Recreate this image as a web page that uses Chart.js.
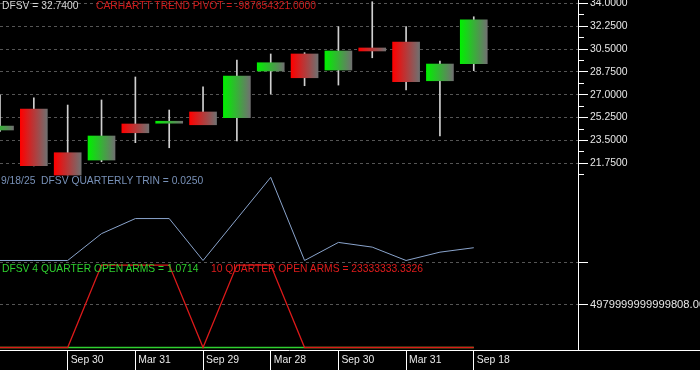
<!DOCTYPE html>
<html><head><meta charset="utf-8">
<script src="https://cdn.jsdelivr.net/npm/chart.js@4.4.1/dist/chart.umd.min.js"></script>
<style>
html,body{margin:0;padding:0;background:#000;overflow:hidden}
#wrap{position:relative;width:700px;height:370px;background:#000}
canvas{position:absolute;left:0;top:0}
.t{position:absolute;font-family:"Liberation Sans",Arial,sans-serif;font-size:10.3px;line-height:12px;white-space:pre}
</style></head><body>
<div id="wrap">
<canvas id="c" width="700" height="370"></canvas>
<div class="t" style="left:2px;top:0px;color:#d8d8d8">DFSV = 32.7400</div>
<div class="t" style="left:96px;top:0px;color:#d01c1c">CARHARTT TREND PIVOT = -987654321.0000</div>
<div class="t" style="left:1px;top:175px;color:#7891b8">9/18/25  DFSV QUARTERLY TRIN = 0.0250</div>
<div class="t" style="left:2px;top:263px;color:#2ed02e">DFSV 4 QUARTER OPEN ARMS = 1.0714</div>
<div class="t" style="left:211px;top:263px;color:#e01c1c">10 QUARTER OPEN ARMS = 23333333.3326</div>
</div>
<script>
// ---- data ----
const candleIndex = [0,1,2,3,4,5,6,7,8,9,10,11,12,13,14];
const opens  = [24.30,25.91,22.56,22.00,24.76,24.82,25.68,25.24,28.82,30.12,28.89,30.58,31.04,28.07,29.38];
const highs  = [26.98,26.77,26.21,26.60,28.36,25.83,27.61,29.66,30.12,30.22,32.21,34.12,32.21,29.58,32.97];
const lows   = [24.20,21.55,20.85,21.87,23.33,22.94,24.70,23.46,27.06,27.69,27.74,29.83,27.36,23.84,28.84];
const closes = [24.60,21.57,20.85,23.84,24.09,24.97,24.70,28.43,29.45,28.30,30.35,30.35,28.00,29.35,32.74];
const trinValues = [0,0,0,0.0526,0.0821,0.0821,0,0.0815,0.1628,0,0.0354,0.0262,0,0.0163,0.0250];
const openArms4Q = [1.0714,1.0714,1.0714,1.0714,1.0714,1.0714,1.0714,1.0714,1.0714,1.0714,1.0714,1.0714,1.0714,1.0714,1.0714];
const openArms10Q = [23333333.3326,23333333.3326,23333333.3326,9.6e15,9.6e15,9.6e15,23333333.3326,9.6e15,9.6e15,23333333.3326,23333333.3326,23333333.3326,23333333.3326,23333333.3326,23333333.3326];
const xTickIndex = [2,4,6,8,10,12,14];
const xTickLabels = ['Sep 30','Mar 31','Sep 29','Mar 28','Sep 30','Mar 31','Sep 18'];
const priceTicks = [21.75,23.5,25.25,27,28.75,30.5,32.25,34];
const priceTickLabels = ['21.7500','23.5000','25.2500','27.0000','28.7500','30.5000','32.2500','34.0000'];
const priceMinorTicks = [20.875,22.625,24.375,26.125,27.875,29.625,31.375,33.125];
const armsTicks = [4979999999999808, 9959999999999616];
const armsTickLabels = ['4979999999999808.0000',''];

// ---- styling ----
const FONT = {family:'"Liberation Sans", Arial, sans-serif', size:10.4};
const AXIS_W = 122;
const BODY_W = 27;
const GRID_C = '#555555';

function bodyColor(ctx){
  if (ctx.type !== 'data') return '#808080';
  const i = ctx.dataIndex;
  const up = closes[i] >= opens[i];
  const base = up ? '#00f000' : '#ff0000';
  const xs = ctx.chart.scales.x;
  if (!xs) return base;
  const px = xs.getPixelForValue(candleIndex[i]);
  if (!isFinite(px)) return base;
  const g = ctx.chart.ctx.createLinearGradient(px - BODY_W/2, 0, px + BODY_W/2, 0);
  g.addColorStop(0, base);
  g.addColorStop(1, '#707070');
  return g;
}

function fixY(s){ s.width = AXIS_W; s.paddingTop = 0; s.paddingBottom = 0; }

const baseline = {
  id:'baseline',
  afterDraw(chart){
    const {ctx, chartArea} = chart;
    const y = Math.round(chartArea.bottom) + 0.5;
    ctx.save();
    ctx.strokeStyle = '#ffffff'; ctx.lineWidth = 1;
    ctx.beginPath(); ctx.moveTo(chartArea.right, y); ctx.lineTo(chart.width, y); ctx.stroke();
    ctx.restore();
  }
};

new Chart(document.getElementById('c'), {
  type:'bar',
  data:{
    datasets:[
      {type:'bar', label:'wicks', yAxisID:'yPrice', order:10, grouped:false,
       data: candleIndex.map(i=>({x:i, y:[lows[i], highs[i]]})),
       backgroundColor:'#d0d0d0', borderWidth:0, barThickness:1},
      {type:'bar', label:'bodies', yAxisID:'yPrice', order:9, grouped:false,
       data: candleIndex.map(i=>({x:i, y:[opens[i], closes[i]]})),
       backgroundColor: bodyColor, borderWidth:0, barThickness:BODY_W},
      {type:'line', label:'trin', yAxisID:'yTrin', order:1,
       data: candleIndex.map(i=>({x:i, y:trinValues[i]})),
       borderColor:'#8aa4cc', borderWidth:1, pointRadius:0, tension:0, fill:false},
      {type:'line', label:'arms4', yAxisID:'yArms', order:3,
       data: candleIndex.map(i=>({x:i, y:openArms4Q[i]})),
       borderColor:'#30d030', borderWidth:1.4, pointRadius:0, tension:0, fill:false},
      {type:'line', label:'arms10', yAxisID:'yArms', order:2,
       data: candleIndex.map(i=>({x:i, y:openArms10Q[i]})),
       borderColor:'#dc1a1a', borderWidth:1.3, pointRadius:0, tension:0, fill:false}
    ]
  },
  options:{
    responsive:false, animation:false, events:[],
    layout:{padding:0},
    plugins:{legend:{display:false}, tooltip:{enabled:false}, title:{display:false}},
    scales:{
      x:{type:'linear', position:'bottom', min:0, max:17.08, offset:false,
         afterBuildTicks:s=>{ s.ticks = xTickIndex.map(v=>({value:v})); },
         afterFit:s=>{ s.height = 20; s.paddingLeft = 0; s.paddingRight = 0; },
         grid:{drawOnChartArea:false, offset:false, color:'#ffffff', tickColor:'#ffffff', tickLength:20, lineWidth:1},
         border:{color:'#ffffff', width:1},
         ticks:{autoSkip:false, maxRotation:0, minRotation:0, align:'start', labelOffset:3, padding:-16,
                color:'#e8e8e8', font:FONT,
                callback:v=>{ const k = xTickIndex.indexOf(v); return k>=0 ? xTickLabels[k] : ''; }}},
      yPrice:{type:'linear', position:'right', stack:'panes', stackWeight:176, min:20.778, max:34.253,
         afterBuildTicks:s=>{ s.ticks = priceMinorTicks.concat(priceTicks).sort((a,b)=>a-b).map(v=>({value:v})); },
         afterFit:fixY,
         grid:{color:c=> (c.tick && priceTicks.includes(c.tick.value)) ? GRID_C : 'rgba(0,0,0,0)',
               tickColor:'#ffffff', tickLength:10, lineWidth:1,
               tickBorderDash:c=> (c.tick && priceTicks.includes(c.tick.value)) ? [] : [5,40]},
         border:{color:'#ffffff', width:1, dash:[3,3]},
         ticks:{autoSkip:false, padding:2, color:'#e6e6e6', font:FONT,
                callback:v=>{ const k = priceTicks.indexOf(v); return k>=0 ? priceTickLabels[k] : ''; }}},
      yTrin:{type:'linear', position:'right', stack:'panes', stackWeight:86, min:-0.00294, max:0.1654,
         afterFit:fixY,
         grid:{display:false},
         border:{color:'#ffffff', width:1},
         ticks:{display:false}},
      yArms:{type:'linear', position:'right', stack:'panes', stackWeight:88, min:-2.912e14, max:9959999999999616,
         afterBuildTicks:s=>{ s.ticks = armsTicks.map(v=>({value:v})); },
         afterFit:fixY,
         grid:{color:GRID_C, tickColor:'#ffffff', tickLength:10, lineWidth:1},
         border:{color:'#ffffff', width:1, dash:[3,3]},
         ticks:{autoSkip:false, padding:2, color:'#e6e6e6', font:{family:FONT.family, size:11.2},
                callback:v=>{ const k = armsTicks.indexOf(v); return k>=0 ? armsTickLabels[k] : ''; }}}
    }
  },
  plugins:[baseline]
});
</script>
</body></html>
